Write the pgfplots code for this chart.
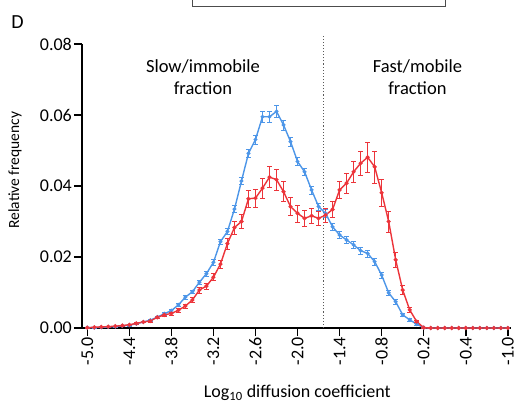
\documentclass[border=0pt]{standalone}
\usepackage{fontspec}
\setmainfont{Carlito}
\usepackage{pgfplots}
\pgfplotsset{compat=1.18}
\usepackage{pgfplotstable}
\definecolor{cblue}{RGB}{77,150,232}
\definecolor{cred}{RGB}{236,52,58}

\pgfplotstableread{
x y e
-5.0 0.0001 0.0001
-4.9 0.0001 0.0001
-4.8 0.0002 0.0001
-4.7 0.0003 0.0001
-4.6 0.0004 0.0001
-4.5 0.0006 0.0001
-4.4 0.0008 0.0002
-4.3 0.0012 0.0002
-4.2 0.0017 0.0002
-4.1 0.0022 0.0003
-4.0 0.0031 0.0003
-3.9 0.0040 0.0003
-3.8 0.0049 0.0004
-3.7 0.0065 0.0004
-3.6 0.0087 0.0005
-3.5 0.0102 0.0005
-3.4 0.0129 0.0006
-3.3 0.0153 0.0007
-3.2 0.0185 0.0008
-3.1 0.0243 0.0008
-3.0 0.0272 0.0009
-2.9 0.0335 0.0010
-2.8 0.0414 0.0010
-2.7 0.0492 0.0012
-2.6 0.0531 0.0013
-2.5 0.0595 0.0015
-2.4 0.0595 0.0015
-2.3 0.0610 0.0016
-2.2 0.0572 0.0014
-2.1 0.0525 0.0013
-2.0 0.0469 0.0012
-1.9 0.0440 0.0011
-1.8 0.0389 0.0011
-1.7 0.0342 0.0010
-1.6 0.0323 0.0010
-1.5 0.0285 0.0010
-1.4 0.0262 0.0010
-1.3 0.0248 0.0010
-1.2 0.0234 0.0010
-1.1 0.0218 0.0010
-1.0 0.0210 0.0010
-0.9 0.0187 0.0010
-0.8 0.0149 0.0009
-0.7 0.0099 0.0008
-0.6 0.0074 0.0007
-0.5 0.0037 0.0005
-0.4 0.0023 0.0004
-0.3 0.0011 0.0002
-0.2 0.0001 0.0001
-0.1 0.0000 0.0000
0.0 0.0000 0.0000
0.1 0.0000 0.0000
0.2 0.0000 0.0000
0.3 0.0000 0.0000
0.4 0.0000 0.0000
0.5 0.0000 0.0000
0.6 0.0000 0.0000
0.7 0.0000 0.0000
0.8 0.0000 0.0000
0.9 0.0000 0.0000
1.0 0.0000 0.0000
}\blueT

\pgfplotstableread{
x y e
-5.0 0.0001 0.0001
-4.9 0.0002 0.0001
-4.8 0.0003 0.0001
-4.7 0.0004 0.0001
-4.6 0.0005 0.0001
-4.5 0.0007 0.0001
-4.4 0.0009 0.0002
-4.3 0.0013 0.0002
-4.2 0.0017 0.0002
-4.1 0.0020 0.0003
-4.0 0.0030 0.0003
-3.9 0.0037 0.0003
-3.8 0.0041 0.0004
-3.7 0.0050 0.0005
-3.6 0.0062 0.0006
-3.5 0.0079 0.0007
-3.4 0.0107 0.0008
-3.3 0.0118 0.0009
-3.2 0.0143 0.0010
-3.1 0.0180 0.0012
-3.0 0.0238 0.0015
-2.9 0.0283 0.0018
-2.8 0.0300 0.0020
-2.7 0.0364 0.0025
-2.6 0.0366 0.0025
-2.5 0.0394 0.0028
-2.4 0.0425 0.0030
-2.3 0.0418 0.0030
-2.2 0.0384 0.0028
-2.1 0.0342 0.0025
-2.0 0.0323 0.0024
-1.9 0.0309 0.0022
-1.8 0.0316 0.0020
-1.7 0.0309 0.0020
-1.6 0.0318 0.0020
-1.5 0.0334 0.0022
-1.4 0.0389 0.0025
-1.3 0.0408 0.0028
-1.2 0.0440 0.0030
-1.1 0.0464 0.0033
-1.0 0.0481 0.0042
-0.9 0.0454 0.0045
-0.8 0.0381 0.0038
-0.7 0.0300 0.0030
-0.6 0.0192 0.0022
-0.5 0.0107 0.0012
-0.4 0.0051 0.0008
-0.3 0.0018 0.0003
-0.2 0.0001 0.0001
-0.1 0.0000 0.0000
0.0 0.0000 0.0000
0.1 0.0000 0.0000
0.2 0.0000 0.0000
0.3 0.0000 0.0000
0.4 0.0000 0.0000
0.5 0.0000 0.0000
0.6 0.0000 0.0000
0.7 0.0000 0.0000
0.8 0.0000 0.0000
0.9 0.0000 0.0000
1.0 0.0000 0.0000
}\redT

\begin{document}
\begin{tikzpicture}
\path[use as bounding box] (-82pt,-82pt) rectangle (435pt,328pt);
\begin{axis}[
  at={(0pt,0pt)}, anchor=south west,
  scale only axis, width=429pt, height=284pt,
  xmin=-5.075, xmax=1.045, ymin=0, ymax=0.08,
  clip=false,
  scaled y ticks=false,
  axis x line=bottom, axis y line=left,
  axis line style={-, line width=1.8pt, black},
  tick align=outside,
  major tick length=8pt,
  tick style={line width=1.5pt, black},
  xtick={-5.0,-4.4,-3.8,-3.2,-2.6,-2.0,-1.4,-0.8,-0.2,0.4,1.0},
  xticklabels={-5.0,-4.4,-3.8,-3.2,-2.6,-2.0,-1.4,-0.8,-0.2,-0.4,-1.0},
  ytick={0,0.02,0.04,0.06,0.08},
  yticklabels={0.00,0.02,0.04,0.06,0.08},
  /pgf/number format/assume math mode=true,
  xticklabel style={rotate=90, anchor=east, font=\fontsize{18}{18}\selectfont, inner xsep=1pt, inner ysep=0pt},
  yticklabel style={font=\fontsize{18}{18}\selectfont, inner sep=2pt},
  xlabel={Log\textsubscript{10} diffusion coefficient},
  ylabel={Relative frequency},
  xlabel style={at={(axis description cs:0.502,-0.229)}, anchor=center, font=\fontsize{18}{18}\selectfont},
  ylabel style={at={(axis description cs:-0.156,0.556)}, anchor=center, font=\fontsize{15.5}{15.5}\selectfont},
]
\draw[dotted, line width=1.1pt, black!65] (axis cs:-1.63,0) -- (axis cs:-1.63,0.0822);
\addplot[cblue, line width=1.4pt, mark=*, mark size=1.2pt,
  error bars/.cd, y dir=both, y explicit,
  error bar style={line width=0.6pt, cblue},
  error mark options={rotate=90, mark size=2.5pt, line width=0.6pt, cblue}]
  table[x=x, y=y, y error=e] {\blueT};
\addplot[cred, line width=1.4pt, mark=*, mark size=1.3pt,
  error bars/.cd, y dir=both, y explicit,
  error bar style={line width=0.6pt, cred},
  error mark options={rotate=90, mark size=2.5pt, line width=0.6pt, cred}]
  table[x=x, y=y, y error=e] {\redT};
\node[align=center, font=\fontsize{18.5}{22}\selectfont] at (axis cs:-3.35,0.0707) {Slow/immobile\\fraction};
\node[align=center, font=\fontsize{18.5}{22}\selectfont] at (axis cs:-0.29,0.0707) {Fast/mobile\\fraction};
\end{axis}
\node[font=\fontsize{20}{20}\selectfont] at (-64.5pt,306pt) {D};
\draw[black!70, line width=0.9pt] (110pt,332pt) -- (110pt,322pt) -- (363pt,322pt) -- (363pt,332pt);
\end{tikzpicture}
\end{document}
